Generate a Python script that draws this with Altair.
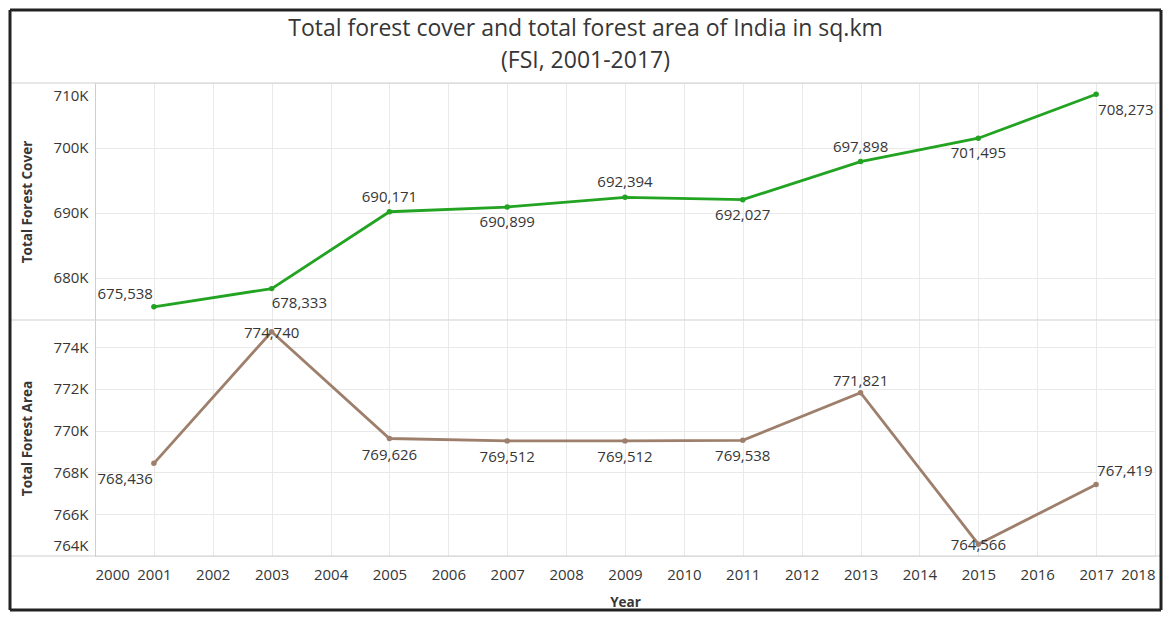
import altair as alt
import pandas as pd

# ---------------- data ----------------
years = [2001, 2003, 2005, 2007, 2009, 2011, 2013, 2015, 2017]
forest_cover = [675538, 678333, 690171, 690899, 692394, 692027, 697898, 701495, 708273]
forest_area = [768436, 774740, 769626, 769512, 769512, 769538, 771821, 764566, 767419]
year_ticks = list(range(2000, 2019))
cover_ticks = [680000, 690000, 700000, 710000]
area_ticks = [764000, 766000, 768000, 770000, 772000, 774000]
title_lines = ["Total forest cover and total forest area of India in sq.km", "(FSI, 2001-2017)"]

# ---------------- style ----------------
W, H1, H2 = 1060, 237, 236
FONT = "Open Sans"
GREEN = "#22a322"
BROWN = "#9e7f6c"
FRAME = "#222222"
SEP = "#cfcfcf"
GRID = "#e9e9e9"
TXT = "#363636"
LEFT, RIGHT, TOP = -85, 1066, -73
BOTTOM = 290

cover_df = pd.DataFrame({"Year": years, "cover": forest_cover})
area_df = pd.DataFrame({"Year": years, "area": forest_area})

blank = alt.Data(values=[{}])


def rule(x, x2, y, y2, color, width):
    return alt.Chart(blank).mark_rule(color=color, strokeWidth=width).encode(
        x=alt.value(x), x2=alt.value(x2), y=alt.value(y), y2=alt.value(y2)
    )


x_top = alt.X(
    "Year:Q",
    scale=alt.Scale(domain=[2000, 2018], nice=False, zero=False),
    axis=alt.Axis(values=year_ticks, labels=False, ticks=False, domain=False,
                  grid=True, gridColor=GRID, title=None),
)
x_bot = alt.X(
    "Year:Q",
    scale=alt.Scale(domain=[2000, 2018], nice=False, zero=False),
    axis=alt.Axis(values=year_ticks, format="d", labelFlush=True, ticks=False,
                  domain=False, grid=True, gridColor=GRID, labelPadding=11,
                  labelFontSize=15, labelFont=FONT, labelColor=TXT,
                  title="Year", titleY=46, titleBaseline="middle",
                  titleFont=FONT, titleFontSize=13.5, titleFontWeight="bold",
                  titleColor=TXT),
)

y_cover = alt.Y(
    "cover:Q",
    scale=alt.Scale(domain=[673500, 710000], nice=False, zero=False),
    axis=alt.Axis(values=cover_ticks, labelExpr="format(datum.value/1000,'d')+'K'",
                  labelFlush=True, labelFlushOffset=-5, ticks=False, domainColor=SEP,
                  gridColor=GRID, labelPadding=7, labelFontSize=15, labelFont=FONT,
                  labelColor=TXT, title="Total Forest Cover", titleX=-68,
                  titleY=H1 / 2, titleAlign="center", titleBaseline="middle",
                  titleFont=FONT, titleFontSize=13.5, titleFontWeight="bold",
                  titleColor=TXT),
)
y_area = alt.Y(
    "area:Q",
    scale=alt.Scale(domain=[764000, 775300], nice=False, zero=False),
    axis=alt.Axis(values=area_ticks, labelExpr="format(datum.value/1000,'d')+'K'",
                  labelFlush=True, labelFlushOffset=-3, ticks=False, domainColor=SEP,
                  gridColor=GRID, labelPadding=7, labelFontSize=15, labelFont=FONT,
                  labelColor=TXT, title="Total Forest Area", titleX=-68,
                  titleY=H2 / 2, titleAlign="center", titleBaseline="middle",
                  titleFont=FONT, titleFontSize=13.5, titleFontWeight="bold",
                  titleColor=TXT),
)


def labels(df, field, x, y, sel, align, dx, dy):
    return (
        alt.Chart(df)
        .transform_filter(alt.FieldOneOfPredicate(field="Year", oneOf=sel))
        .mark_text(align=align, baseline="middle", dx=dx, dy=dy, fontSize=15,
                   font=FONT, color=TXT)
        .encode(x=x, y=y, text=alt.Text(f"{field}:Q", format=","))
    )


top_base = alt.Chart(cover_df)
top = alt.layer(
    top_base.mark_line(color=GREEN, strokeWidth=2.8).encode(x=x_top, y=y_cover),
    top_base.mark_circle(color=GREEN, size=30, opacity=1).encode(x=x_top, y=y_cover),
    labels(cover_df, "cover", x_top, y_cover, [2001], "right", -1, -13),
    labels(cover_df, "cover", x_top, y_cover, [2003], "left", 0, 14),
    labels(cover_df, "cover", x_top, y_cover, [2005, 2009, 2013], "center", 0, -15),
    labels(cover_df, "cover", x_top, y_cover, [2007, 2011, 2015], "center", 0, 15),
    labels(cover_df, "cover", x_top, y_cover, [2017], "left", 2, 16),
    alt.Chart(blank).mark_text(align="center", baseline="middle", fontSize=23,
                               font=FONT, color=TXT, lineHeight=32).encode(
        x=alt.value((LEFT + RIGHT) / 2), y=alt.value(-54.5), text=alt.value(title_lines)),
    rule(LEFT, RIGHT, 0, 0, SEP, 1),
    rule(LEFT, RIGHT, H1, H1, SEP, 1),
    rule(LEFT, RIGHT, TOP, TOP, FRAME, 3),
    rule(LEFT, LEFT, TOP, H1, FRAME, 3),
    rule(RIGHT, RIGHT, TOP, H1, FRAME, 3),
).properties(width=W, height=H1)

bot_base = alt.Chart(area_df)
bottom = alt.layer(
    bot_base.mark_line(color=BROWN, strokeWidth=2.8).encode(x=x_bot, y=y_area),
    bot_base.mark_circle(color=BROWN, size=30, opacity=1).encode(x=x_bot, y=y_area),
    labels(area_df, "area", x_bot, y_area, [2001], "right", -1, 16),
    labels(area_df, "area", x_bot, y_area, [2003], "center", 0, 1),
    labels(area_df, "area", x_bot, y_area, [2005, 2007, 2009, 2011], "center", 0, 16),
    labels(area_df, "area", x_bot, y_area, [2013], "center", 0, -12),
    labels(area_df, "area", x_bot, y_area, [2015], "center", 0, 1),
    labels(area_df, "area", x_bot, y_area, [2017], "left", 1, -14),
    rule(LEFT, RIGHT, H2, H2, SEP, 1),
    rule(LEFT, RIGHT, BOTTOM, BOTTOM, FRAME, 3),
    rule(LEFT, LEFT, 0, BOTTOM, FRAME, 3),
    rule(RIGHT, RIGHT, 0, BOTTOM, FRAME, 3),
).properties(width=W, height=H2)

chart = (
    alt.vconcat(top, bottom, spacing=0, bounds="flush")
    .properties(padding=0, background="white")
    .configure_view(strokeWidth=0)
)

chart.save("out.html", embed_options={"renderer": "svg", "actions": False})
